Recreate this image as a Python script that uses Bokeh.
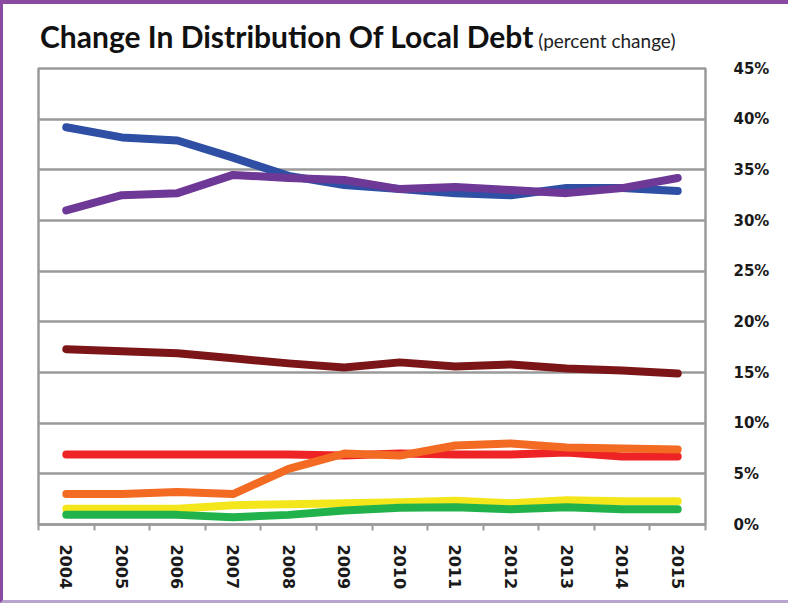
from bokeh.plotting import figure
from bokeh.models import FixedTicker, PrintfTickFormatter, LinearAxis, Range1d, Div
from bokeh.layouts import column
from bokeh.embed import file_html
from bokeh.resources import INLINE

years = [2004, 2005, 2006, 2007, 2008, 2009, 2010, 2011, 2012, 2013, 2014, 2015]
blue = [39.2, 38.2, 37.9, 36.2, 34.4, 33.5, 33.1, 32.7, 32.5, 33.2, 33.2, 32.9]
purple = [31.0, 32.5, 32.7, 34.5, 34.2, 34.0, 33.1, 33.3, 33.0, 32.7, 33.2, 34.2]
darkred = [17.3, 17.1, 16.9, 16.4, 15.9, 15.5, 16.0, 15.6, 15.8, 15.4, 15.2, 14.9]
red = [6.9, 6.9, 6.9, 6.9, 6.9, 6.8, 7.0, 6.9, 6.9, 7.1, 6.7, 6.7]
orange = [3.0, 3.0, 3.2, 3.0, 5.5, 7.0, 6.8, 7.8, 8.0, 7.6, 7.5, 7.4]
yellow = [1.55, 1.55, 1.55, 1.9, 2.0, 2.1, 2.2, 2.35, 2.1, 2.4, 2.3, 2.3]
green = [0.95, 0.95, 0.95, 0.72, 0.95, 1.38, 1.65, 1.7, 1.5, 1.7, 1.5, 1.5]
y_ticks = [0, 5, 10, 15, 20, 25, 30, 35, 40, 45]
title_main = "Change In Distribution Of Local Debt"
title_sub = "(percent change)"

series = [
    (blue, "#2e4fa3"),
    (purple, "#6e3896"),
    (darkred, "#7c1518"),
    (red, "#ee2325"),
    (orange, "#f36a22"),
    (yellow, "#f3e71c"),
    (green, "#22b24c"),
]

grid_col = "#9a9a9a"

p = figure(width=777, height=542, output_backend="svg", toolbar_location=None,
           x_range=Range1d(years[0] - 0.5, years[-1] + 0.5), y_range=Range1d(0, 45),
           y_axis_location=None, x_axis_location=None,
           min_border_left=35, min_border_right=75, min_border_top=10, min_border_bottom=76)
p.background_fill_color = "white"
p.border_fill_color = "white"
p.outline_line_color = grid_col
p.outline_line_width = 2.5

xa = LinearAxis(ticker=FixedTicker(ticks=years, minor_ticks=[y - 0.5 for y in years] + [years[-1] + 0.5]),
                formatter=PrintfTickFormatter(format="%d"))
xa.major_tick_line_color = None
xa.minor_tick_line_color = grid_col
xa.minor_tick_line_width = 2
xa.minor_tick_in = 0
xa.minor_tick_out = 6
xa.axis_line_color = grid_col
xa.axis_line_width = 2.5
xa.major_label_orientation = "vertical"
xa.major_label_text_font = "DejaVu Sans"
xa.major_label_text_font_style = "bold"
xa.major_label_text_font_size = "16px"
xa.major_label_text_color = "#1a1a1a"
xa.major_label_standoff = 14
p.add_layout(xa, "below")

ya = LinearAxis(ticker=FixedTicker(ticks=y_ticks), formatter=PrintfTickFormatter(format="%d%%"))
ya.major_tick_line_color = None
ya.minor_tick_line_color = None
ya.axis_line_color = None
ya.major_label_text_font = "DejaVu Sans"
ya.major_label_text_font_style = "bold"
ya.major_label_text_font_size = "15px"
ya.major_label_text_color = "#1a1a1a"
ya.major_label_standoff = 22
p.add_layout(ya, "right")

p.xgrid.visible = False
p.ygrid.ticker = FixedTicker(ticks=y_ticks)
p.ygrid.grid_line_color = grid_col
p.ygrid.grid_line_width = 2.5

for vals, col in series:
    p.line(years, vals, line_color=col, line_width=8, line_cap="round", line_join="round")

title = Div(
    text=(f'<span style="font-family:Lato;font-weight:bold;font-size:30px;color:#111;">{title_main}</span>'
          f'<span style="font-family:Lato;font-size:19px;color:#222;"> {title_sub}</span>'),
    width=777, height=44,
    styles={"padding-left": "32px", "padding-top": "12px", "line-height": "30px",
            "white-space": "nowrap", "box-sizing": "border-box", "background": "white"},
)

layout = column(title, p, spacing=0)
layout.styles = {"border-top": "4px solid #8a4aa2", "border-left": "3px solid #8a4aa2",
                 "border-bottom": "3px solid #b8a4ce", "background": "white"}

open("out.html", "w").write(file_html(layout, INLINE))
